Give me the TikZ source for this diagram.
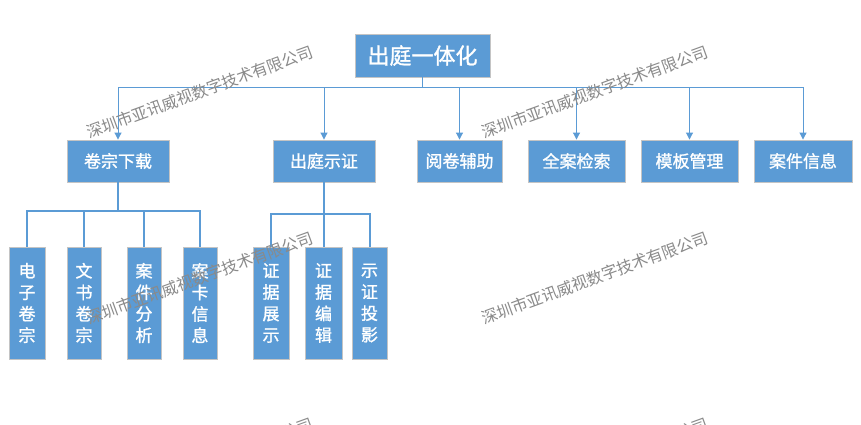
\documentclass[tikz,border=0pt]{standalone}
\usepackage{fontspec}
\setmainfont{Noto Sans CJK SC}
\newfontfamily\boxfont[FakeBold=1.2]{Noto Sans CJK SC}
\usetikzlibrary{arrows.meta}
\definecolor{boxblue}{HTML}{5B9BD5}
\definecolor{boxedge}{HTML}{C4C4C4}
\definecolor{wmgray}{HTML}{8A8A8A}
\begin{document}
\begin{tikzpicture}[x=1pt,y=-1pt,
  box/.style={draw=boxedge,line width=0.9pt,fill=boxblue,text=white,inner sep=0pt,anchor=center},
  rootbox/.style={box,minimum width=135pt,minimum height=43pt,font=\boxfont\fontsize{22}{26}\selectfont},
  topbox/.style={box,minimum height=42pt,font=\boxfont\fontsize{17}{21}\selectfont},
  vbox/.style={box,minimum height=112pt,align=center,font=\boxfont\fontsize{17}{21.5}\selectfont},
  arr/.style={draw=boxblue,line width=1pt,-{Triangle[width=7pt,length=7pt]}},
  sub/.style={draw=boxblue,line width=2pt},
  wm/.style={text=wmgray,rotate=20,font=\fontsize{16}{18}\selectfont,inner sep=0pt}]
\useasboundingbox (0,0) rectangle (861,425);
\fill[white] (0,0) rectangle (861,425);
% nodes
\node[rootbox] (root) at (422.5,55.5) {出庭一体化};
\node[topbox,minimum width=102pt] (a1) at (118,161) {卷宗下载};
\node[topbox,minimum width=102pt] (a2) at (324,161) {出庭示证};
\node[topbox,minimum width=85pt] (a3) at (459.5,161) {阅卷辅助};
\node[topbox,minimum width=97pt] (a4) at (576.5,161) {全案检索};
\node[topbox,minimum width=97pt] (a5) at (689.5,161) {模板管理};
\node[topbox,minimum width=98pt] (a6) at (803,161) {案件信息};
\node[vbox,minimum width=36pt] (b1) at (27,303) {电\\子\\卷\\宗};
\node[vbox,minimum width=34pt] (b2) at (84,303) {文\\书\\卷\\宗};
\node[vbox,minimum width=34pt] (b3) at (144,303) {案\\件\\分\\析};
\node[vbox,minimum width=34pt] (b4) at (200,303) {案\\卡\\信\\息};
\node[vbox,minimum width=36pt] (c1) at (271,303) {证\\据\\展\\示};
\node[vbox,minimum width=37pt] (c2) at (323.5,303) {证\\据\\编\\辑};
\node[vbox,minimum width=35pt] (c3) at (369.5,303) {示\\证\\投\\影};
% buses
\coordinate (bus) at (422.5,87.5);
\coordinate (busa) at (118,211);
\coordinate (busb) at (324,214);
% connectors level 1
\foreach \n in {a1,a2,a3,a4,a5,a6}
  \draw[arr] (root.south) |- (\n.north |- bus) -- (\n.north);
% connectors level 2
\foreach \n in {b1,b2,b3,b4}
  \draw[sub] (a1.south) |- (\n.north |- busa) -- (\n.north);
\foreach \n in {c1,c2,c3}
  \draw[sub] (a2.south) |- (\n.north |- busb) -- (\n.north);
% watermarks
\node[wm] (w1) at (200,92) {深圳市亚讯威视数字技术有限公司};
\node[wm] (w2) at (595,92) {深圳市亚讯威视数字技术有限公司};
\node[wm] (w3) at (200,278) {深圳市亚讯威视数字技术有限公司};
\node[wm] (w4) at (595,278) {深圳市亚讯威视数字技术有限公司};
\node[wm] (w5) at (200,464) {深圳市亚讯威视数字技术有限公司};
\node[wm] (w6) at (595,464) {深圳市亚讯威视数字技术有限公司};
\end{tikzpicture}
\end{document}
